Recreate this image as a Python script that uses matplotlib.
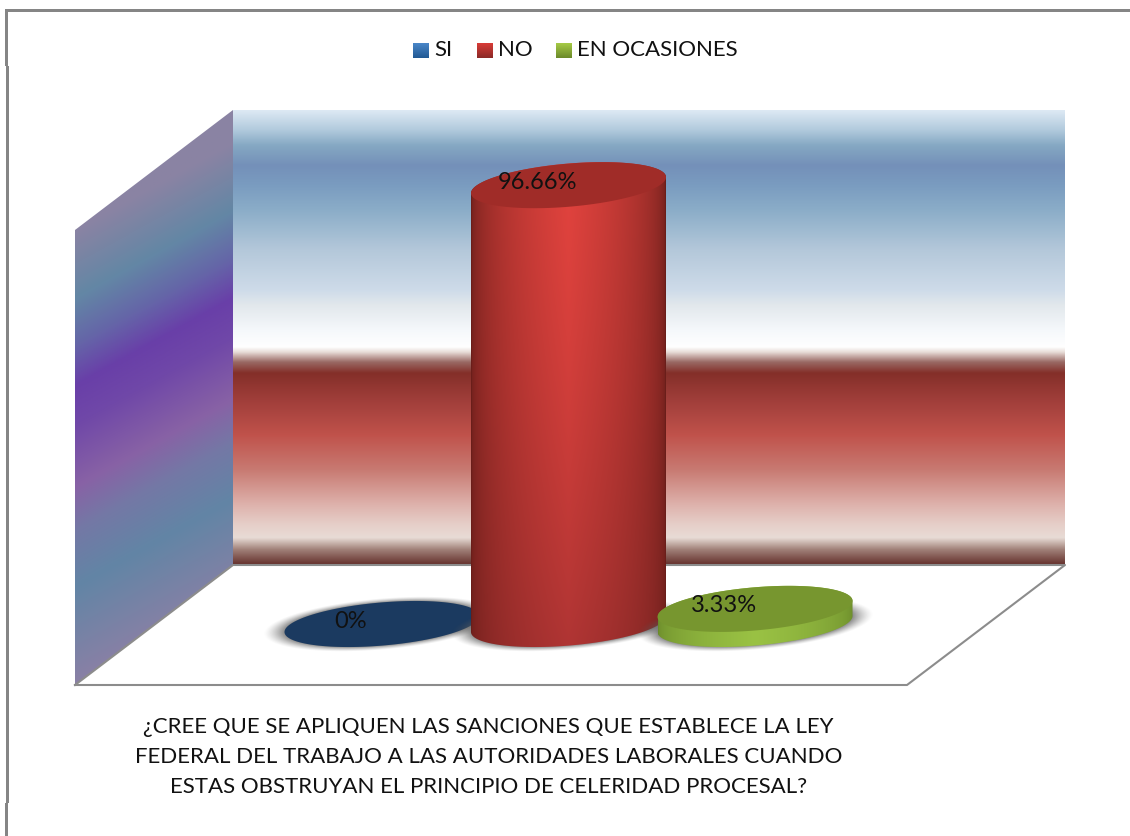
import numpy as np
import matplotlib
matplotlib.use("Agg")
import matplotlib.pyplot as plt
from matplotlib.colors import LinearSegmentedColormap, to_rgb
from matplotlib.patches import PathPatch, Polygon, Rectangle
from matplotlib.path import Path

categories = ["SI", "NO", "EN OCASIONES"]
values = [0, 96.66, 3.33]
value_labels = ["0%", "96.66%", "3.33%"]
axis_title = ("¿CREE QUE SE APLIQUEN LAS SANCIONES QUE ESTABLECE LA LEY\n"
              "FEDERAL DEL TRABAJO A LAS AUTORIDADES LABORALES CUANDO\n"
              "ESTAS OBSTRUYAN EL PRINCIPIO DE CELERIDAD PROCESAL?")

plt.rcParams["font.family"] = ["Lato", "DejaVu Sans"]

# 3d box, in figure pixels
BACK_L, BACK_R, BACK_T, BACK_B = 233, 1065, 110, 565
FRONT_L, FRONT_R, FRONT_T, FRONT_B = 75, 907, 230, 685

# cylinders
BASE_Y = 624
FIRST_X = 382
STEP_X = 186.5
RX, RY = 97.5, 21.6
SHEAR = 0.082
PX_PER_UNIT = 4.54

BACK_STOPS = [(110, "#dde9f4"), (130, "#b0c9dc"), (145, "#85a8c3"), (165, "#7490b9"),
              (185, "#7a9cc0"), (210, "#8badc8"), (250, "#b4c8da"), (290, "#cedbe9"),
              (305, "#e2e8ec"), (330, "#f5f8fb"), (347, "#ffffff"), (352, "#e8ddd8"),
              (362, "#9a6a65"), (373, "#842f29"), (400, "#a03e3a"), (435, "#c0524b"),
              (470, "#c87a72"), (505, "#deb2ac"), (525, "#e6cfc9"), (538, "#e8dcd6"),
              (550, "#a08078"), (565, "#64302c")]
SIDE_STOPS = [(230, "#8a83a3"), (297, "#6387a5"), (345, "#6565a8"), (385, "#693fa8"),
              (425, "#7048a8"), (487, "#8862a5"), (530, "#7478a5"), (587, "#6285a5"),
              (685, "#8a80a5")]

SWATCHES = [("#4a86c8", "#215a94"), ("#d83b37", "#8c2a27"), ("#a6ca46", "#6b8a2a")]
SWATCH_X = [413, 477, 556]
TOPS = ["#1b3a60", "#a02c28", "#77962f"]
SIDE_LIGHT = [("#3f74b0", "#2f5c90"), ("#e2433e", "#ad3433"), ("#9ac244", "#9ac244")]
SIDE_DARK = ["#16304f", "#6a1e1a", "#6a8a2a"]


def make_cmap(stops):
    lo, hi = stops[0][0], stops[-1][0]
    return LinearSegmentedColormap.from_list(
        "g", [((p - lo) / (hi - lo), c) for p, c in stops], N=512), lo, hi


def ellipse_points(cx, cy, n=240):
    t = np.linspace(0, 2 * np.pi, n, endpoint=False)
    x = cx + RX * np.cos(t)
    y = cy + RY * np.sin(t) - SHEAR * (x - cx)
    return x, y


def image_in_path(ax, rgba, extent, path, z):
    im = ax.imshow(rgba, extent=extent, aspect="auto", zorder=z, interpolation="bilinear")
    im.set_clip_path(PathPatch(path, transform=ax.transData))


def draw_back_wall(ax):
    cmap, lo, hi = make_cmap(BACK_STOPS)
    grad = cmap(np.linspace(0, 1, 512))[:, None, :]
    ax.imshow(grad, extent=(BACK_L, BACK_R, BACK_B, BACK_T), aspect="auto", zorder=1)


def draw_side_wall(ax):
    cmap, lo, hi = make_cmap(SIDE_STOPS)
    xs = np.linspace(FRONT_L, BACK_L, 160)
    ys = np.linspace(BACK_T, FRONT_B, 570)
    xx, yy = np.meshgrid(xs, ys)
    t = (yy + 0.55 * (xx - FRONT_L) - lo) / (hi - lo)
    poly = [(FRONT_L, FRONT_T), (BACK_L, BACK_T), (BACK_L, BACK_B), (FRONT_L, FRONT_B)]
    path = Path(poly + poly[:1], closed=True)
    image_in_path(ax, cmap(np.clip(t, 0, 1)), (FRONT_L, BACK_L, FRONT_B, BACK_T), path, 1)


def draw_floor(ax):
    pts = [(FRONT_L, FRONT_B), (BACK_L, BACK_B), (BACK_R, BACK_B), (FRONT_R, FRONT_B)]
    ax.add_patch(Polygon(pts, closed=True, fc="white", ec="none", zorder=1.5))
    ax.plot(*zip(*(pts + pts[:1])), color="#8c8c8c", lw=1.5, zorder=1.6)


def draw_shadow(ax, cx, z):
    x0, x1, y0, y1 = cx - 125, cx + 125, BASE_Y - 40, BASE_Y + 40
    xx, yy = np.meshgrid(np.linspace(x0, x1, 250), np.linspace(y0, y1, 80))
    r = np.hypot((xx - cx) / RX, (yy - BASE_Y + SHEAR * (xx - cx)) / RY)
    alpha = 0.7 * np.clip((1.22 - r) / 0.22, 0, 1) ** 1.4
    rgba = np.zeros(xx.shape + (4,))
    rgba[..., :3] = 0.35
    rgba[..., 3] = alpha
    ax.imshow(rgba, extent=(x0, x1, y1, y0), aspect="auto", zorder=z)


def draw_cylinder(ax, i, value, z):
    cx = FIRST_X + STEP_X * i
    height = value * PX_PER_UNIT
    top_y = BASE_Y - height
    draw_shadow(ax, cx, z)

    if height > 0:
        bx, by = ellipse_points(cx, BASE_Y)
        tx, ty = ellipse_points(cx, top_y)
        # outline: lower half of the base, then upper half of the top
        right, left = np.argmax(bx), np.argmin(bx)
        lower = np.arange(right, left + 1)
        upper = np.r_[left:len(tx), 0:right + 1]
        outline = list(zip(bx[lower], by[lower])) + list(zip(tx[upper], ty[upper]))
        path = Path(outline + outline[:1], closed=True)

        u = np.linspace(-1, 1, 200)
        v = np.linspace(0, 1, 120)[:, None] ** 1.4
        light = (1 - np.abs(u)) ** 0.45
        a, b = (np.array(to_rgb(c)) for c in SIDE_LIGHT[i])
        dark = np.array(to_rgb(SIDE_DARK[i]))
        rgb = np.zeros((120, 200, 3))
        for k in range(3):
            center = a[k] + (b[k] - a[k]) * v
            rgb[..., k] = dark[k] + (center - dark[k]) * light
        ext = (cx - RX, cx + RX, BASE_Y + 40, top_y - 40)
        image_in_path(ax, rgb, ext, path, z + 0.1)

    x, y = ellipse_points(cx, top_y)
    ax.fill(x, y, color=TOPS[i], lw=0, zorder=z + 0.2)
    ax.text(cx - 31, top_y - 3, value_labels[i], fontsize=17, ha="center", va="center",
            color="#111111", zorder=10)


def draw_legend(ax):
    for name, x, (c0, c1) in zip(categories, SWATCH_X, SWATCHES):
        cmap = LinearSegmentedColormap.from_list("s", [c0, c1])
        ax.imshow(cmap(np.linspace(0, 1, 32))[:, None, :],
                  extent=(x, x + 16, 58, 43), aspect="auto", zorder=2)
        ax.text(x + 21, 50, name, fontsize=16, va="center", ha="left", color="#111111")


def draw_frame(ax):
    grey = "#858585"
    ax.add_patch(Rectangle((5, 9), 1125, 3, fc=grey, ec="none"))
    ax.add_patch(Rectangle((5, 9), 3, 57, fc=grey, ec="none"))
    ax.add_patch(Rectangle((6, 66), 3, 737, fc=grey, ec="none"))
    ax.add_patch(Rectangle((5, 803), 3, 33, fc=grey, ec="none"))


fig = plt.figure(figsize=(11.3, 8.36), dpi=100)
ax = fig.add_axes([0, 0, 1, 1])

draw_frame(ax)
draw_back_wall(ax)
draw_side_wall(ax)
draw_floor(ax)
for i, value in enumerate(values):
    draw_cylinder(ax, i, value, 3 + i)
draw_legend(ax)
ax.text(488.5, 757, axis_title, fontsize=16, ha="center", va="center",
        linespacing=1.6, color="#111111")

ax.set_xlim(0, 1130)
ax.set_ylim(836, 0)
ax.axis("off")
fig.savefig("out.png", dpi=100, facecolor="white")
